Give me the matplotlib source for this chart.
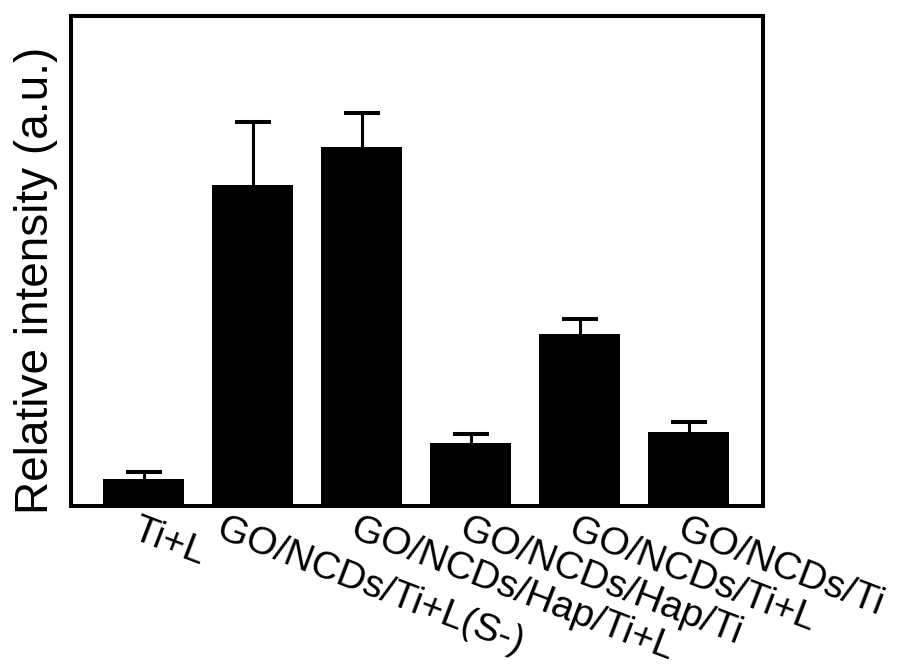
import matplotlib
matplotlib.use('Agg')
import matplotlib.pyplot as plt
import matplotlib.transforms as mtransforms
import numpy as np


FILE = 'out.png'

SAMPLES = ['Ti+L', 'GO/NCDs/Ti+L(S-)', 'GO/NCDs/Hap/Ti+L', 'GO/NCDs/Hap/Ti',
           'GO/NCDs/Ti+L', 'GO/NCDs/Ti']
INTENSITIES = [0.265, 3.21, 3.59, 0.633, 1.717, 0.737]
ERRORS = [0.078, 0.633, 0.343, 0.087, 0.150, 0.106]


def main():
    plt.rcParams['font.family'] = ['Liberation Sans', 'DejaVu Sans']

    fig = plt.figure(figsize=(8.98, 6.70), dpi=100)
    ax = fig.add_axes([0.0791, 0.2448, 0.7706, 0.7313])

    x = np.arange(len(SAMPLES))
    ax.bar(x, INTENSITIES, width=0.74, color='black', zorder=2)
    # Upper error bars only
    _, caps, _ = ax.errorbar(x, INTENSITIES, yerr=[np.zeros(len(ERRORS)), ERRORS],
                             fmt='none', ecolor='black', elinewidth=2.2,
                             capsize=13, capthick=2.9, zorder=1)
    caps[0].set_visible(False)

    ax.set_xlim(-0.665, 5.683)
    ax.set_ylim(0, 4.9)
    ax.set_yticks([])

    # Slanted sample names, hanging from just left of each bar centre
    ax.set_xticks(x)
    ax.set_xticklabels(SAMPLES, rotation=-21, ha='left', va='top',
                       rotation_mode='anchor', fontsize=28)
    ax.tick_params(axis='x', length=0, pad=4)
    for i, label in enumerate(ax.get_xticklabels()):
        dx = -28 if i == 1 else -3
        shift = mtransforms.ScaledTranslation(dx / 100, 0, fig.dpi_scale_trans)
        label.set_transform(label.get_transform() + shift)

    for spine in ax.spines.values():
        spine.set_linewidth(2.9)

    ax.set_ylabel('Relative intensity (a.u.)', fontsize=33)
    ax.yaxis.set_label_coords(-0.019, 0.461)

    fig.savefig(FILE, dpi=100)


if __name__ == '__main__':
    main()
